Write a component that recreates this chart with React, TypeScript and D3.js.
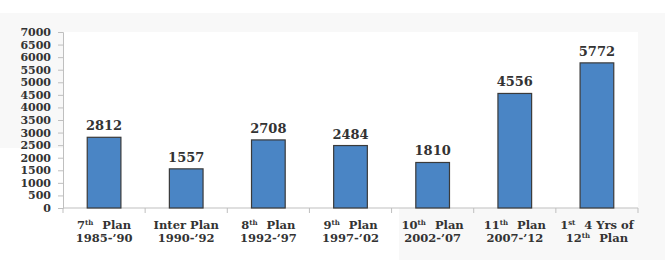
import * as d3 from "d3";
import { useEffect, useRef } from "react";

const WIDTH = 665;
const HEIGHT = 274;

// Chart data
const plans = ["7th", "Inter", "8th", "9th", "10th", "11th", "12th-4yrs"];
const values = [2812, 1557, 2708, 2484, 1810, 4556, 5772];
const yTicks = d3.range(0, 7001, 500);

// Category labels: [main, superscript, rest] per line
const labelLine1: [string, string, string][] = [
  ["7", "th", "Plan"],
  ["Inter Plan", "", ""],
  ["8", "th", "Plan"],
  ["9", "th", "Plan"],
  ["10", "th", "Plan"],
  ["11", "th", "Plan"],
  ["1", "st", "4 Yrs of"],
];
const labelLine2: [string, string, string][] = [
  ["1985-\u201990", "", ""],
  ["1990-\u201992", "", ""],
  ["1992-\u201997", "", ""],
  ["1997-\u201902", "", ""],
  ["2002-\u201907", "", ""],
  ["2007-\u201912", "", ""],
  ["12", "th", "Plan"],
];

const margin = { top: 32, right: 27, bottom: 66, left: 63 };
const FONT = "'DejaVu Serif', serif";
const TEXT = "#333";

export default function App() {
  const ref = useRef<SVGSVGElement | null>(null);

  useEffect(() => {
    if (!ref.current) return;
    const root = d3.select(ref.current);
    root.selectAll("*").remove();

    const width = WIDTH - margin.left - margin.right;
    const height = HEIGHT - margin.top - margin.bottom;

    // faint slide background patches
    root.append("rect").attr("x", 0).attr("y", 13).attr("width", WIDTH).attr("height", 247).attr("fill", "#f8f8f8");
    root.append("rect").attr("x", 0).attr("y", 148).attr("width", margin.left).attr("height", 112).attr("fill", "#fff");
    root.append("rect").attr("x", 0).attr("y", 32 + height).attr("width", 399).attr("height", 260 - 32 - height).attr("fill", "#fff");

    const svg = root.append("g").attr("transform", `translate(${margin.left},${margin.top})`);

    svg.append("rect").attr("width", width).attr("height", height).attr("fill", "#fff");

    const x = d3.scaleBand().domain(plans).range([0, width]).paddingInner(0.59).paddingOuter(0.295);
    const y = d3.scaleLinear().domain([0, 7000]).range([height, 0]);

    // Y axis
    const yAxis = svg
      .append("g")
      .call(d3.axisLeft(y).tickValues(yTicks).tickFormat(d3.format("d")).tickSize(5).tickPadding(7));
    yAxis.select(".domain").attr("stroke", "#bfbfbf");
    yAxis.selectAll(".tick line").attr("stroke", "#bfbfbf");
    yAxis
      .selectAll(".tick text")
      .attr("font-family", FONT)
      .attr("font-weight", "bold")
      .attr("font-size", 11)
      .attr("fill", TEXT);

    // X axis with ticks at band boundaries
    const step = x.step();
    const xAxis = svg.append("g").attr("transform", `translate(0,${height})`);
    xAxis.append("line").attr("x1", 0).attr("x2", width).attr("stroke", "#bfbfbf");
    xAxis
      .selectAll("line.tk")
      .data(d3.range(plans.length + 1))
      .join("line")
      .attr("class", "tk")
      .attr("x1", (i) => i * step)
      .attr("x2", (i) => i * step)
      .attr("y1", 0)
      .attr("y2", 5)
      .attr("stroke", "#bfbfbf");

    // Bars
    svg
      .selectAll("rect.bar")
      .data(values)
      .join("rect")
      .attr("class", "bar")
      .attr("x", (_, i) => x(plans[i])!)
      .attr("y", (d) => y(d))
      .attr("width", x.bandwidth())
      .attr("height", (d) => height - y(d))
      .attr("fill", "#4a85c5")
      .attr("stroke", "#3a3a3a")
      .attr("stroke-width", 1.2);

    // Value labels
    svg
      .selectAll("text.val")
      .data(values)
      .join("text")
      .attr("class", "val")
      .attr("x", (_, i) => x(plans[i])! + x.bandwidth() / 2)
      .attr("y", (d) => y(d) - 7)
      .attr("text-anchor", "middle")
      .attr("font-family", FONT)
      .attr("font-weight", "bold")
      .attr("font-size", 13)
      .attr("fill", TEXT)
      .text((d) => d);

    // Category labels
    const addLine = (parts: [string, string, string], cx: number, by: number) => {
      const t = svg
        .append("text")
        .attr("x", cx)
        .attr("y", by)
        .attr("text-anchor", "middle")
        .attr("font-family", FONT)
        .attr("font-weight", "bold")
        .attr("font-size", 11.5)
        .attr("fill", TEXT);
      t.append("tspan").text(parts[0]);
      if (parts[1]) {
        t.append("tspan").attr("font-size", 7).attr("dy", -4).text(parts[1]);
        t.append("tspan").attr("dx", 9).attr("dy", 4).text(parts[2]);
      }
    };
    plans.forEach((p, i) => {
      const cx = x(p)! + x.bandwidth() / 2;
      addLine(labelLine1[i], cx, height + 21);
      addLine(labelLine2[i], cx, height + 34);
    });
  }, []);

  return (
    <svg
      ref={ref}
      width={WIDTH}
      height={HEIGHT}
      style={{ position: "absolute", left: 0, top: 0, background: "#fff" }}
    />
  );
}
